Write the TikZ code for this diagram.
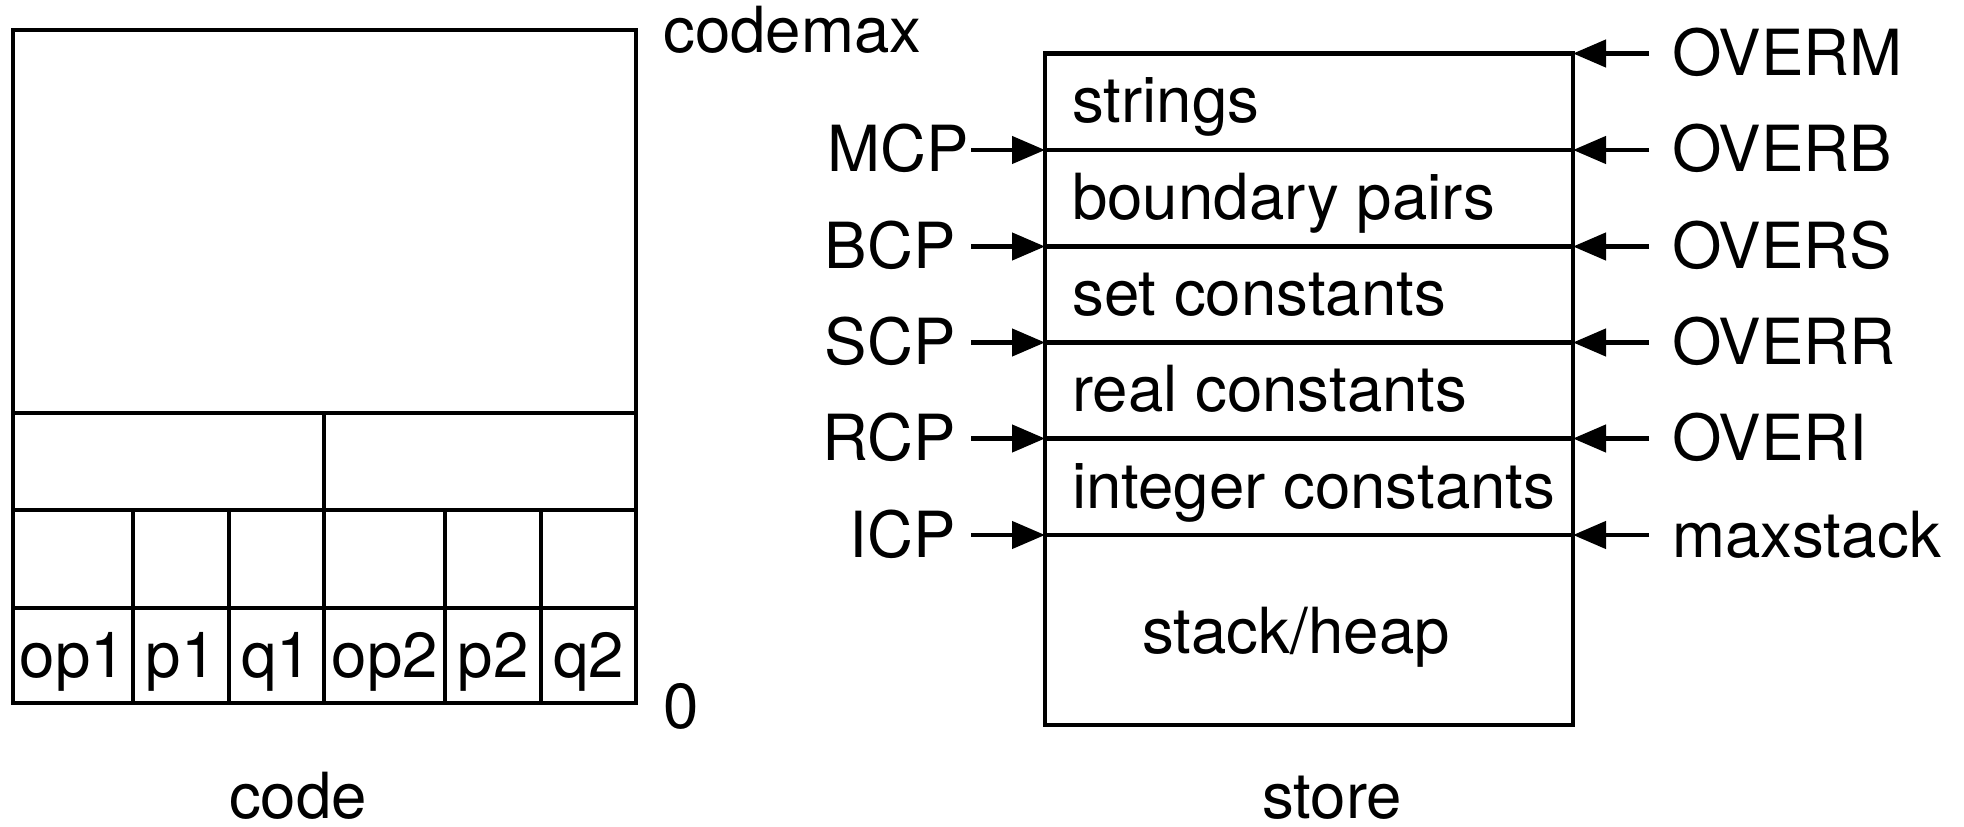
\documentclass[tikz,border=0pt]{standalone}
\usepackage{fontspec}
\setmainfont{TeX Gyre Heros}
\usetikzlibrary{arrows.meta}
\begin{document}
\begin{tikzpicture}[x=0.02cm,y=-0.02cm,line width=0.09cm,
  lbl/.style={inner sep=0pt,font=\fontsize{36.2}{42}\selectfont},
  ptr/.style={-{Triangle[length=0.66cm,width=0.54cm]},line width=0.09cm}]
\useasboundingbox (0,0) rectangle (1964,827);

% ---- code area ----
\draw (13,30) rectangle (636,703);
\draw (13,413) -- (636,413);
\draw (13,510) -- (636,510);
\draw (13,608) -- (636,608);
\draw (324,413) -- (324,510);
\foreach \cx in {133,229,324,445,541} \draw (\cx,510) -- (\cx,703);
\node[lbl,anchor=base] (op1) at (73,677) {op1};
\node[lbl,anchor=base] (p1) at (181,677) {p1};
\node[lbl,anchor=base] (q1) at (276.5,677) {q1};
\node[lbl,anchor=base] (op2) at (385,677) {op2};
\node[lbl,anchor=base] (p2) at (493,677) {p2};
\node[lbl,anchor=base] (q2) at (588.5,677) {q2};
\node[lbl,anchor=base west] (codemax) at (661,53) {codemax};
\node[lbl,anchor=base west] (zero) at (661,728) {0};
\node[lbl,anchor=base,text depth=0pt] (code) at (298,818) {code};

% ---- store area ----
\draw (1045,53.5) rectangle (1573,725);
\foreach \ly in {150,246.5,342.5,438.5,535} \draw (1045,\ly) -- (1573,\ly);
\node[lbl,anchor=base west] (strings) at (1070,123) {strings};
\node[lbl,anchor=base west] (bpairs) at (1070,219.5) {boundary pairs};
\node[lbl,anchor=base west] (setc) at (1070,315.5) {set constants};
\node[lbl,anchor=base west] (realc) at (1070,411.5) {real constants};
\node[lbl,anchor=base west] (intc) at (1070,508) {integer constants};
\node[lbl,anchor=base] (heap) at (1296,653) {stack/heap};
\node[lbl,anchor=base,text depth=0pt] (store) at (1332,818) {store};

% boundary points on the store edges
\coordinate (L1) at (1045,150);
\coordinate (L2) at (1045,246.5);
\coordinate (L3) at (1045,342.5);
\coordinate (L4) at (1045,438.5);
\coordinate (L5) at (1045,535);
\coordinate (R0) at (1573,53.5);
\coordinate (R1) at (1573,150);
\coordinate (R2) at (1573,246.5);
\coordinate (R3) at (1573,342.5);
\coordinate (R4) at (1573,438.5);
\coordinate (R5) at (1573,535);

% left pointers
\node[lbl,anchor=base east] (mcp) at (971,172) {MCP};
\node[lbl,anchor=base east] (bcp) at (958,268.5) {BCP};
\node[lbl,anchor=base east] (scp) at (958,364.5) {SCP};
\node[lbl,anchor=base east] (rcp) at (958,460.5) {RCP};
\node[lbl,anchor=base east] (icp) at (958,557) {ICP};
\coordinate (mcpS) at (971,150);
\coordinate (bcpS) at (971,246.5);
\coordinate (scpS) at (971,342.5);
\coordinate (rcpS) at (971,438.5);
\coordinate (icpS) at (971,535);
\draw[ptr] (mcpS) -- (L1);
\draw[ptr] (bcpS) -- (L2);
\draw[ptr] (scpS) -- (L3);
\draw[ptr] (rcpS) -- (L4);
\draw[ptr] (icpS) -- (L5);

% right limits
\node[lbl,anchor=base west] (overm) at (1670,75.5) {OVERM};
\node[lbl,anchor=base west] (overb) at (1670,172) {OVERB};
\node[lbl,anchor=base west] (overs) at (1670,268.5) {OVERS};
\node[lbl,anchor=base west] (overr) at (1670,364.5) {OVERR};
\node[lbl,anchor=base west] (overi) at (1670,460.5) {OVERI};
\node[lbl,anchor=base west] (maxstack) at (1670,557) {maxstack};
\coordinate (overmS) at (1649,53.5);
\coordinate (overbS) at (1649,150);
\coordinate (oversS) at (1649,246.5);
\coordinate (overrS) at (1649,342.5);
\coordinate (overiS) at (1649,438.5);
\coordinate (maxS) at (1649,535);
\draw[ptr] (overmS) -- (R0);
\draw[ptr] (overbS) -- (R1);
\draw[ptr] (oversS) -- (R2);
\draw[ptr] (overrS) -- (R3);
\draw[ptr] (overiS) -- (R4);
\draw[ptr] (maxS) -- (R5);
\end{tikzpicture}
\end{document}
